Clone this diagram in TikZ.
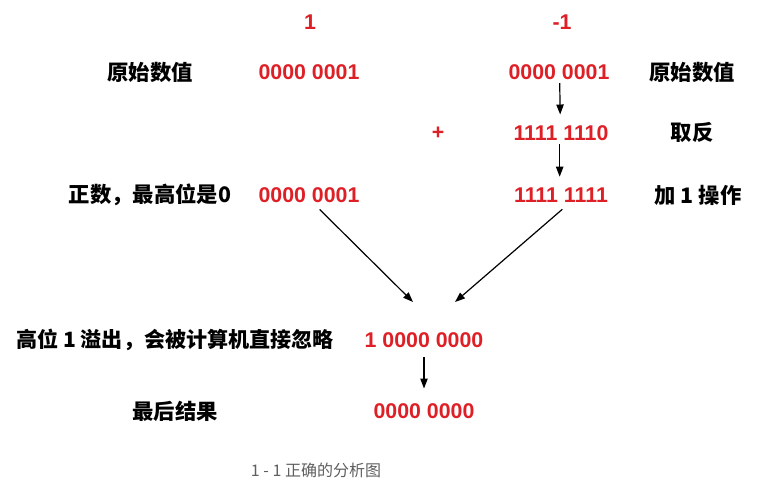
\documentclass[tikz,border=0pt]{standalone}
\usepackage{fontspec}
\setmainfont{Liberation Sans}
\newfontfamily\cjk{Noto Sans CJK SC}
\usetikzlibrary{arrows.meta}
\definecolor{numred}{RGB}{222,32,38}
\definecolor{capgray}{RGB}{95,95,95}
\tikzset{
  num/.style={text=numred, font=\fontsize{16}{19}\selectfont\bfseries, inner sep=0pt},
  lbl/.style={font=\cjk\fontsize{16}{19}\selectfont\bfseries, inner sep=0pt},
  arr/.style={-{Triangle[length=7.5pt,width=5.5pt]}, line width=0.9pt},
}

\begin{document}
\begin{tikzpicture}[x=0.75pt,y=0.75pt,yscale=-1,xscale=1]
\path[use as bounding box] (0,0) rectangle (777,486);

% Text Node
\node[num] (pos) at (310,22) {1};
% Text Node
\node[num] (neg) at (562,22) {-1};

% Text Node
\node[lbl] (origL) at (150,72) {原始数值};
% Text Node
\node[num] (posOrig) at (309,72) {0000 0001};
% Text Node
\node[num] (negOrig) at (559,72) {0000 0001};
% Text Node
\node[lbl] (origR) at (692,72) {原始数值};

% Text Node
\node[num] (plus) at (438,133) {+};
% Text Node
\node[num] (negInv) at (561,133) {1111 1110};
% Text Node
\node[lbl] (inv) at (692,132) {取反};

% Text Node
\node[lbl] (posLbl) at (150,195) {正数，最高位是0};
% Text Node
\node[num] (posVal) at (309,195) {0000 0001};
% Text Node
\node[num] (negVal) at (561,195) {1111 1111};
% Text Node
\node[lbl] (addOne) at (698,195) {加 1 操作};

% Text Node
\node[lbl, font=\cjk\fontsize{15.8}{19}\selectfont\bfseries] (ovfLbl) at (175,340) {高位 1 溢出，会被计算机直接忽略};
% Text Node
\node[num] (sum) at (424,340) {1 0000 0000};
% Text Node
\node[lbl] (resLbl) at (175,411) {最后结果};
% Text Node
\node[num] (res) at (424,411) {0000 0000};

% Text Node
\node[font=\cjk\fontsize{12}{14}\selectfont, text=capgray] (cap) at (316,470) {1 - 1 正确的分析图};

%Straight Lines
\coordinate (inA) at (413,302);
\coordinate (inB) at (455,302);
\draw[arr, shorten <=2.5pt, shorten >=8pt] ([xshift=0.5pt]negOrig.south) -- ([xshift=-0.5pt]negInv.north);
\draw[arr, shorten <=2.5pt, shorten >=8pt] ([xshift=-1pt]negInv.south) -- ([xshift=-1pt]negVal.north);
\draw[arr] ([xshift=8pt,yshift=5pt]posVal.south) -- (inA);
\draw[arr] ([xshift=1pt,yshift=5pt]negVal.south) -- (inB);
\draw[arr, shorten <=7pt, shorten >=11pt] (sum.south) -- (res.north);

\end{tikzpicture}
\end{document}
